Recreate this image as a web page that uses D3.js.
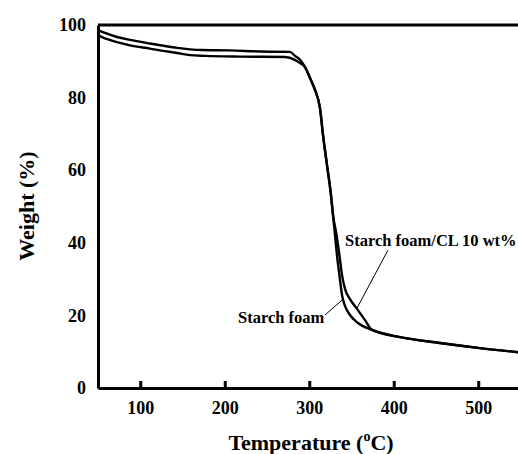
<!DOCTYPE html>
<html>
<head>
<meta charset="utf-8">
<script src="https://cdn.jsdelivr.net/npm/d3@7"></script>
<style>
  body { margin: 0; background: #fff; }
  svg { display: block; }
  text { font-family: "Liberation Serif", "Times New Roman", serif; font-weight: bold; fill: #000; }
</style>
</head>
<body>
<div id="container"></div>
<script>
// TGA curves, temperature (°C) vs weight (%)
const starchFoamT = [50, 58.3, 72.5, 87.9, 111.5, 129.3, 143.5, 158.9, 176.6, 218, 271.3, 283.1, 289.1, 295, 300.9, 306.8, 312.7, 316.3, 321, 325.7, 328.1,
    330.5, 332.8, 336.4, 338.8, 342.3, 348.2, 357.7, 374.3, 407.4, 454.7, 502, 550];
const starchFoamW = [97.2, 96.3, 95.3, 94.4, 93.5, 92.8, 92.3, 91.7, 91.5, 91.3, 91.2, 90.4, 89.5, 88.4, 85.4, 82.1, 77.1, 69.7, 61.4, 53.2, 47.7,
    42.1, 36.6, 29.8, 25.6, 22.6, 20.1, 17.9, 16.0, 14.0, 12.4, 11.0, 9.8];

const clFoamT = [50, 58.3, 72.5, 87.9, 111.5, 129.3, 143.5, 158.9, 173.1, 206.2, 241.7, 277.2, 283.1, 289.1, 295, 300.9, 306.8, 312.7, 316.3, 321, 325.7, 328.1,
    331.7, 335.2, 338.8, 342.3, 348.2, 356.5, 366, 374.3, 407.4, 454.7, 502, 550];
const clFoamW = [98.6, 97.8, 96.7, 95.9, 94.9, 94.2, 93.7, 93.3, 93.1, 93.0, 92.7, 92.6, 91.5, 90.4, 88.4, 85.4, 82.1, 77.1, 69.7, 61.4, 53.2, 47.7,
    43.0, 37.5, 31.1, 27.3, 24.5, 21.8, 18.7, 16.0, 14.0, 12.4, 11.0, 9.8];

const xTicks = [100, 200, 300, 400, 500];
const yTicks = [0, 20, 40, 60, 80, 100];

const labels = [
    { text: 'Starch foam/CL 10 wt%', t: 342.3, w: 39.1, t0: 393.2, w0: 38.0, t1: 356.5, w1: 22.0 },
    { text: 'Starch foam', t: 215.7, w: 17.9, t0: 318.6, w0: 20.1, t1: 338.8, w1: 24.2 }
];

const width = 518;
const height = 454;

const x = d3.scaleLinear().domain([50, 550]).range([98, 520.5]);
const y = d3.scaleLinear().domain([0, 100]).range([388, 25]);

const svg = d3.select('#container')
    .append('svg')
    .attr('width', width)
    .attr('height', height);

const line = d3.line()
    .x(d => x(d[0]))
    .y(d => y(d[1]))
    .curve(d3.curveMonotoneX);

const series = [
    d3.zip(starchFoamT, starchFoamW),
    d3.zip(clFoamT, clFoamW)
];

svg.selectAll('path.curve')
    .data(series)
    .join('path')
    .attr('class', 'curve')
    .attr('d', line)
    .attr('fill', 'none')
    .attr('stroke', '#000')
    .attr('stroke-width', 2.4);

// frame: left, bottom, top
const xAxis = d3.axisBottom(x).tickValues(xTicks).tickSizeInner(-7).tickSizeOuter(0).tickPadding(13);
const gx = svg.append('g')
    .attr('transform', `translate(0,${y(0)})`)
    .call(xAxis);
gx.select('.domain').attr('stroke-width', 3);
gx.selectAll('.tick line').attr('stroke-width', 3);
gx.selectAll('.tick text').attr('font-size', 18).attr('font-family', null);

const yAxis = d3.axisLeft(y).tickValues(yTicks).tickSize(0).tickPadding(12);
const gy = svg.append('g')
    .attr('transform', `translate(${x(50)},0)`)
    .call(yAxis);
gy.select('.domain').attr('stroke-width', 3);
gy.selectAll('.tick text').attr('font-size', 18).attr('font-family', null);

svg.append('line')
    .attr('x1', x(50)).attr('x2', width)
    .attr('y1', y(100)).attr('y2', y(100))
    .attr('stroke', '#000')
    .attr('stroke-width', 3);

// annotations
svg.selectAll('line.leader')
    .data(labels)
    .join('line')
    .attr('class', 'leader')
    .attr('x1', d => x(d.t0)).attr('y1', d => y(d.w0))
    .attr('x2', d => x(d.t1)).attr('y2', d => y(d.w1))
    .attr('stroke', '#000')
    .attr('stroke-width', 1);

svg.selectAll('text.label')
    .data(labels)
    .join('text')
    .attr('class', 'label')
    .attr('x', d => x(d.t))
    .attr('y', d => y(d.w))
    .attr('font-size', 16.5)
    .text(d => d.text);

// axis titles
const xt = svg.append('text')
    .attr('x', 311)
    .attr('y', 450)
    .attr('text-anchor', 'middle')
    .attr('font-size', 22);
xt.append('tspan').text('Temperature (');
xt.append('tspan').attr('font-size', 14).attr('dy', -9).text('o');
xt.append('tspan').attr('dy', 9).text('C)');

svg.append('text')
    .attr('transform', 'translate(34,206) rotate(-90)')
    .attr('text-anchor', 'middle')
    .attr('font-size', 22)
    .text('Weight (%)');
</script>
</body>
</html>
